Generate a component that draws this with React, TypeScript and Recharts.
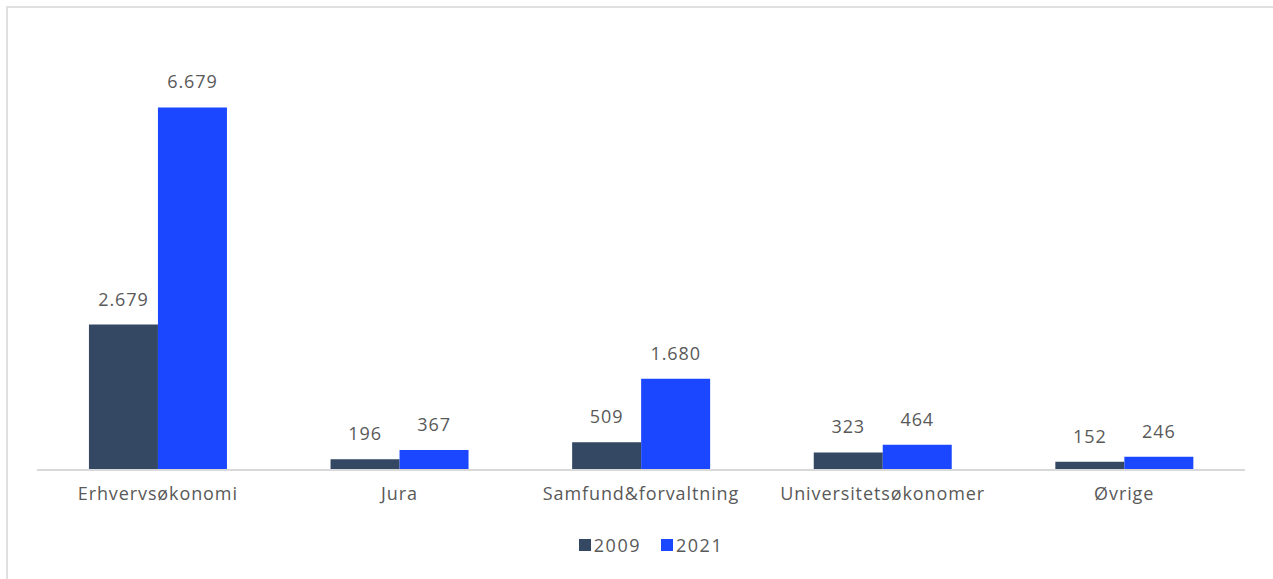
import { BarChart, Bar, XAxis, YAxis, Legend, LabelList } from "recharts";

const categories = [
  "Erhvervsøkonomi",
  "Jura",
  "Samfund&forvaltning",
  "Universitetsøkonomer",
  "Øvrige",
];
const values2009 = [2679, 196, 509, 323, 152];
const values2021 = [6679, 367, 1680, 464, 246];
const yDomain = [0, 7000];
const seriesNames = ["2009", "2021"];

const COLORS = ["#344763", "#1a47ff"];
const TEXT = "#595959";
const FONT = "'Open Sans', 'Noto Sans', sans-serif";
const LS = 0.9;

const data = categories.map((name, i) => ({
  name,
  y2009: values2009[i],
  y2021: values2021[i],
}));

const fmt = (v: number) => v.toLocaleString("da-DK");

const labelStyle = { fontSize: 18, fill: TEXT, fontFamily: FONT, letterSpacing: LS };

function LegendContent() {
  return (
    <div style={{ display: "flex", justifyContent: "center", gap: 20, fontSize: 18, lineHeight: "24px", color: TEXT, letterSpacing: 1.5, paddingLeft: 20 }}>
      {seriesNames.map((n, i) => (
        <span key={n} style={{ display: "inline-flex", alignItems: "center", gap: 3 }}>
          <span style={{ width: 12, height: 12, background: COLORS[i], display: "inline-block" }} />
          {n}
        </span>
      ))}
    </div>
  );
}

export default function App() {
  return (
    <div style={{ position: "absolute", left: 0, top: 0, width: 1273, height: 579, overflow: "hidden", background: "#fff", fontFamily: FONT }}>
      {/* frame, runs off the right/bottom like the original */}
      <div
        style={{
          position: "absolute",
          left: 6,
          top: 6,
          width: 1300,
          height: 620,
          border: "2px solid #e0e0e0",
        }}
      />
      <BarChart
        width={1273}
        height={579}
        data={data}
        margin={{ top: 90, right: 28, left: 37, bottom: 0 }}
        barCategoryGap="21.5%"
        barGap={0}
        style={{ position: "absolute", left: 0, top: 0 }}
      >
        <XAxis
          dataKey="name"
          height={50}
          tickLine={false}
          axisLine={{ stroke: "#d9d9d9", strokeWidth: 2 }}
          tickMargin={11}
          tick={labelStyle}
          interval={0}
        />
        <YAxis hide domain={yDomain} />
        <Legend
          verticalAlign="bottom"
          height={59}
          wrapperStyle={{ height: 59, paddingTop: 13, boxSizing: "border-box", fontFamily: FONT }}
          content={() => <LegendContent />}
        />
        <Bar dataKey="y2009" name="2009" fill={COLORS[0]} isAnimationActive={false}>
          <LabelList
            dataKey="y2009"
            position="top"
            offset={19}
            formatter={(v: number) => fmt(v)}
            style={labelStyle}
          />
        </Bar>
        <Bar dataKey="y2021" name="2021" fill={COLORS[1]} isAnimationActive={false}>
          <LabelList
            dataKey="y2021"
            position="top"
            offset={19}
            formatter={(v: number) => fmt(v)}
            style={labelStyle}
          />
        </Bar>
      </BarChart>
    </div>
  );
}
